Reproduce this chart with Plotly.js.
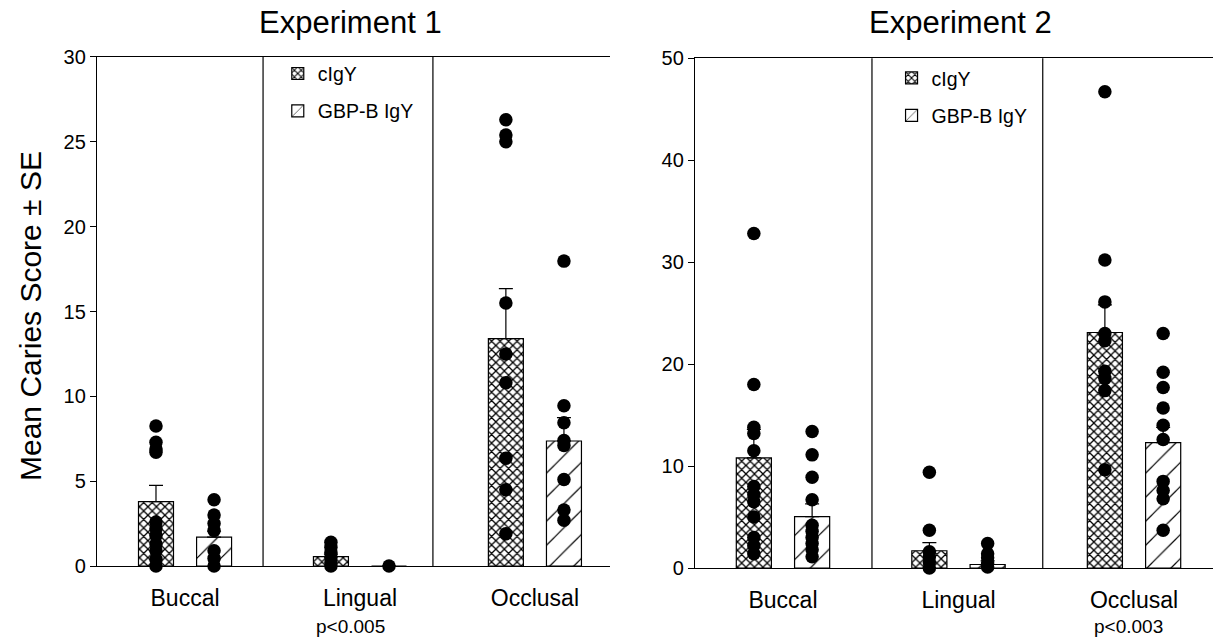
<!DOCTYPE html>
<html>
<head>
<meta charset="utf-8">
<script src="https://cdn.plot.ly/plotly-3.0.1.min.js"></script>
<style>html,body{margin:0;padding:0;background:#fff;}#chart{width:1213px;height:639px;}</style>
</head>
<body>
<div id="chart"></div>
<script>
// ---------- DATA ----------
const categories = ['Buccal', 'Lingual', 'Occlusal'];
const seriesNames = ['cIgY', 'GBP-B IgY'];

// Experiment 1
const exp1_cIgY_mean = [3.8, 0.55, 13.4];
const exp1_cIgY_se   = [0.95, 0.15, 2.95];
const exp1_GBP_mean  = [1.7, 0, 7.37];
const exp1_GBP_se    = [0.35, 0, 1.38];
const exp1_cIgY_buccal   = [8.25, 7.3, 6.9, 6.7, 2.6, 2.2, 1.8, 1.3, 0.9, 0.4, 0];
const exp1_cIgY_lingual  = [1.4, 1.1, 0.8, 0.5, 0.2, 0];
const exp1_cIgY_occlusal = [26.3, 25.4, 25.0, 15.5, 12.5, 10.8, 6.35, 4.5, 1.9];
const exp1_GBP_buccal    = [3.9, 3.0, 2.5, 2.1, 0.9, 0.45, 0];
const exp1_GBP_lingual   = [0];
const exp1_GBP_occlusal  = [17.97, 9.45, 8.45, 7.4, 7.1, 5.1, 3.3, 2.7];

// Experiment 2
const exp2_cIgY_mean = [10.8, 1.7, 23.1];
const exp2_cIgY_se   = [2.8, 0.8, 2.7];
const exp2_GBP_mean  = [5.05, 0.35, 12.3];
const exp2_GBP_se    = [1.25, 0.35, 1.5];
const exp2_cIgY_buccal   = [32.8, 18.0, 13.8, 13.2, 11.5, 8.0, 7.2, 6.5, 5.0, 3.0, 2.2, 1.4];
const exp2_cIgY_lingual  = [9.4, 3.7, 1.6, 1.1, 0.6, 0];
const exp2_cIgY_occlusal = [46.7, 30.2, 26.1, 23.0, 22.3, 19.3, 18.6, 17.4, 9.65];
const exp2_GBP_buccal    = [13.4, 11.1, 8.9, 6.7, 4.2, 3.6, 3.0, 2.4, 1.8, 1.1];
const exp2_GBP_lingual   = [2.4, 1.4, 1.0, 0.5, 0.1];
const exp2_GBP_occlusal  = [23.0, 19.2, 17.7, 15.7, 14.0, 12.6, 8.5, 7.6, 6.8, 3.7];

const pValues = ['p<0.005', 'p<0.003'];
const panelTitles = ['Experiment 1', 'Experiment 2'];
const yTitle = 'Mean Caries Score ± SE';

// ---------- BUILD ----------
const FONT = 'Liberation Sans, Arial, Helvetica, sans-serif';
const OFF = 0.166, BW = 0.2;
const idx = categories.map((c, i) => i);
const crossPattern = {shape: 'x', size: 6, solidity: 0.38, fgcolor: '#000', bgcolor: '#fff', fillmode: 'replace'};
const slashPattern = {shape: '/', size: 17, solidity: 0.07, fgcolor: '#000', bgcolor: '#fff', fillmode: 'replace'};

function barTrace(name, means, se, off, pattern, xa, ya, legend, group) {
  return {
    type: 'bar', name: name, x: idx.map(i => i + off), y: means, width: BW,
    xaxis: xa, yaxis: ya, legend: legend, legendgroup: group,
    marker: {color: '#fff', pattern: pattern, line: {color: '#000', width: 1.2}},
    error_y: {type: 'data', symmetric: false, array: se, arrayminus: se.map(() => 0),
              color: '#000', thickness: 1.2, width: 7},
    hoverinfo: 'skip'
  };
}
function dotTrace(lists, off, xa, ya) {
  const xs = [], ys = [];
  lists.forEach((vals, i) => vals.forEach(v => { xs.push(i + off); ys.push(v); }));
  return {type: 'scatter', mode: 'markers', x: xs, y: ys, xaxis: xa, yaxis: ya,
          showlegend: false, cliponaxis: false, hoverinfo: 'skip',
          marker: {color: '#000', size: 13.5, line: {width: 0}}};
}

const data = [
  barTrace(seriesNames[0], exp1_cIgY_mean, exp1_cIgY_se, -OFF, crossPattern, 'x', 'y', 'legend', 'a1'),
  barTrace(seriesNames[1], exp1_GBP_mean, exp1_GBP_se, OFF, slashPattern, 'x', 'y', 'legend', 'b1'),
  dotTrace([exp1_cIgY_buccal, exp1_cIgY_lingual, exp1_cIgY_occlusal], -OFF, 'x', 'y'),
  dotTrace([exp1_GBP_buccal, exp1_GBP_lingual, exp1_GBP_occlusal], OFF, 'x', 'y'),
  barTrace(seriesNames[0], exp2_cIgY_mean, exp2_cIgY_se, -OFF, crossPattern, 'x2', 'y2', 'legend2', 'a2'),
  barTrace(seriesNames[1], exp2_GBP_mean, exp2_GBP_se, OFF, slashPattern, 'x2', 'y2', 'legend2', 'b2'),
  dotTrace([exp2_cIgY_buccal, exp2_cIgY_lingual, exp2_cIgY_occlusal], -OFF, 'x2', 'y2'),
  dotTrace([exp2_GBP_buccal, exp2_GBP_lingual, exp2_GBP_occlusal], OFF, 'x2', 'y2')
];

const xBase = {
  tickvals: idx, ticktext: categories, ticks: '', showgrid: false, zeroline: false,
  showline: true, linecolor: '#000', linewidth: 1.2, mirror: true,
  tickfont: {family: FONT, size: 23, color: '#000'}, ticklabelstandoff: 11, fixedrange: true
};
const yBase = {
  showgrid: false, zeroline: false, showline: true, linecolor: '#000', linewidth: 1.2,
  ticks: 'outside', ticklen: 6, tickcolor: '#000', tickwidth: 1,
  tickfont: {family: FONT, size: 20, color: '#000'}, fixedrange: true
};
const legBase = {
  xanchor: 'left', yanchor: 'top', bgcolor: 'rgba(0,0,0,0)', borderwidth: 0,
  font: {family: FONT, size: 19.5, color: '#000'}, tracegroupgap: 9, traceorder: 'grouped'
};

// divider positions (in category units) for each panel
const div1 = [0.446, 1.417], div2 = [0.507, 1.48];

const layout = {
  width: 1213, height: 639, margin: {l: 0, r: 0, t: 0, b: 0},
  paper_bgcolor: '#fff', plot_bgcolor: '#fff', barmode: 'overlay', showlegend: true,
  font: {family: FONT, color: '#000'},
  xaxis: Object.assign({}, xBase, {domain: [0.080, 0.503], range: [-0.503, 2.43], anchor: 'y'}),
  yaxis: Object.assign({}, yBase, {domain: [0.1142, 0.9108], range: [0, 30], tickvals: [0, 5, 10, 15, 20, 25, 30], anchor: 'x'}),
  xaxis2: Object.assign({}, xBase, {domain: [0.573, 1.0], range: [-0.501, 2.45], anchor: 'y2'}),
  yaxis2: Object.assign({}, yBase, {domain: [0.111, 0.909], range: [0, 50], tickvals: [0, 10, 20, 30, 40, 50], anchor: 'x2'}),
  legend: Object.assign({}, legBase, {x: 0.229, y: 0.915}),
  legend2: Object.assign({}, legBase, {x: 0.735, y: 0.908}),
  shapes: [].concat(
    div1.map(v => ({type: 'line', xref: 'x', yref: 'y domain', x0: v, x1: v, y0: 0, y1: 1, line: {color: '#000', width: 1.2}})),
    div2.map(v => ({type: 'line', xref: 'x2', yref: 'y2 domain', x0: v, x1: v, y0: 0, y1: 1, line: {color: '#000', width: 1.2}}))
  ),
  annotations: [
    {text: panelTitles[0], xref: 'paper', yref: 'paper', x: 350 / 1213, y: 1 - 23 / 639, showarrow: false,
     xanchor: 'center', yanchor: 'middle', font: {family: FONT, size: 31, color: '#000'}},
    {text: panelTitles[1], xref: 'paper', yref: 'paper', x: 960 / 1213, y: 1 - 23 / 639, showarrow: false,
     xanchor: 'center', yanchor: 'middle', font: {family: FONT, size: 31, color: '#000'}},
    {text: pValues[0], xref: 'paper', yref: 'paper', x: 350 / 1213, y: 1 - 626 / 639, showarrow: false,
     xanchor: 'center', yanchor: 'middle', font: {family: FONT, size: 19, color: '#000'}},
    {text: pValues[1], xref: 'paper', yref: 'paper', x: 1128 / 1213, y: 1 - 626 / 639, showarrow: false,
     xanchor: 'center', yanchor: 'middle', font: {family: FONT, size: 19, color: '#000'}},
    {text: yTitle, xref: 'paper', yref: 'paper', x: 30 / 1213, y: 1 - 316 / 639, showarrow: false,
     textangle: -90, xanchor: 'center', yanchor: 'middle', font: {family: FONT, size: 30, color: '#000'}}
  ]
};

Plotly.newPlot('chart', data, layout, {staticPlot: true, displayModeBar: false});
</script>
</body>
</html>
